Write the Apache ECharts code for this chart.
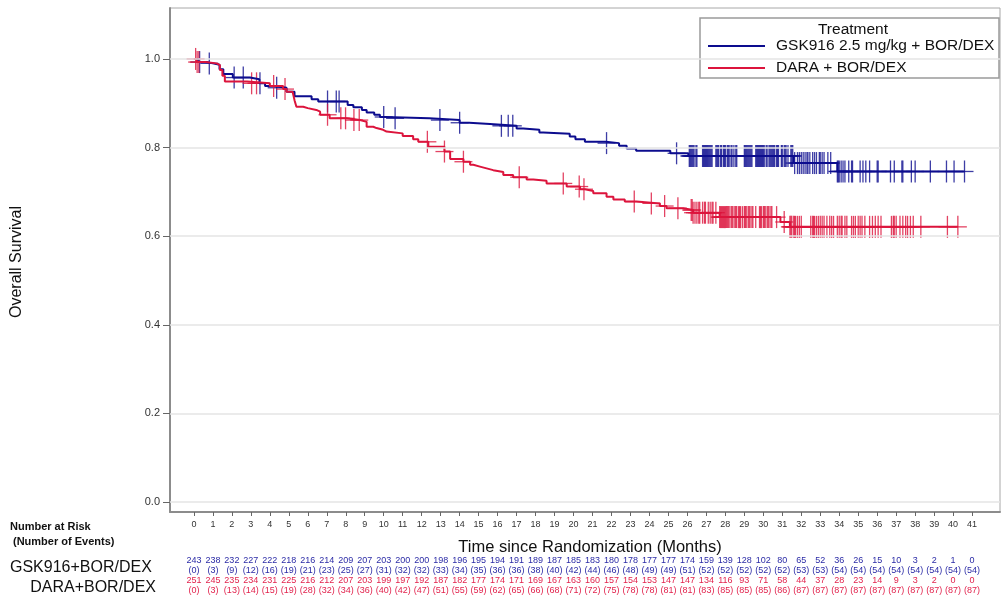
<!DOCTYPE html>
<html>
<head>
<meta charset="utf-8">
<script src="https://cdn.jsdelivr.net/npm/echarts@6/dist/echarts.min.js"></script>
<style>html,body{margin:0;padding:0;background:#fff}#c{width:1001px;height:596px}</style>
</head>
<body>
<div id="c"></div>
<script>
const xTicks = [0,1,2,3,4,5,6,7,8,9,10,11,12,13,14,15,16,17,18,19,20,21,22,23,24,25,26,27,28,29,30,31,32,33,34,35,36,37,38,39,40,41];
const yTicks = [0, 0.2, 0.4, 0.6, 0.8, 1.0];

const gskName = 'GSK916 2.5 mg/kg + BOR/DEX';
const daraName = 'DARA + BOR/DEX';

const gskAtRisk = [243,238,232,227,222,218,216,214,209,207,203,200,200,198,196,195,194,191,189,187,185,183,180,178,177,177,174,159,139,128,102,80,65,52,36,26,15,10,3,2,1,0];
const gskEvents = [0,3,9,12,16,19,21,23,25,27,31,32,32,33,34,35,36,36,38,40,42,44,46,48,49,49,51,52,52,52,52,52,53,53,54,54,54,54,54,54,54,54];
const daraAtRisk = [251,245,235,234,231,225,216,212,207,203,199,197,192,187,182,177,174,171,169,167,163,160,157,154,153,147,147,134,116,93,71,58,44,37,28,23,14,9,3,2,0,0];
const daraEvents = [0,3,13,14,15,19,28,32,34,36,40,42,47,51,55,59,62,65,66,68,71,72,75,78,78,81,81,83,85,85,85,86,87,87,87,87,87,87,87,87,87,87];

const gskSteps = [[0,1.0],[0.2,0.993],[0.6,0.990],[1.0,0.987],[1.35,0.977],[1.55,0.966],[2.05,0.958],[2.95,0.954],[3.45,0.945],[3.75,0.939],[4.2,0.935],[4.88,0.926],[5.3,0.916],[6.2,0.909],[6.55,0.904],[8.1,0.896],[8.4,0.891],[8.85,0.885],[9.1,0.879],[9.5,0.874],[9.8,0.869],[10.1,0.866],[12.4,0.862],[14.0,0.856],[14.5,0.853],[15.6,0.849],[17.0,0.843],[17.35,0.840],[18.2,0.834],[18.4,0.831],[19.8,0.825],[20.1,0.819],[20.6,0.813],[21.7,0.810],[22.4,0.804],[22.8,0.798],[23.3,0.793],[25.1,0.787],[26.05,0.781],[31.6,0.765],[33.9,0.746],[40.6,0.746]];

const daraSteps = [[0,1.0],[0.15,0.993],[0.6,0.990],[1.2,0.986],[1.37,0.975],[1.5,0.962],[1.63,0.949],[2.8,0.945],[4.0,0.939],[4.7,0.932],[4.88,0.926],[5.2,0.922],[5.3,0.907],[5.4,0.892],[5.76,0.889],[6.0,0.885],[6.45,0.881],[6.65,0.874],[7.15,0.866],[8.05,0.862],[8.75,0.858],[9.1,0.847],[9.45,0.844],[9.62,0.840],[9.97,0.836],[10.15,0.832],[11.0,0.826],[11.55,0.819],[11.82,0.813],[12.35,0.802],[13.2,0.791],[13.5,0.774],[14.2,0.768],[14.55,0.761],[14.72,0.757],[15.07,0.753],[15.42,0.749],[15.77,0.745],[16.3,0.738],[16.82,0.733],[17.53,0.728],[17.88,0.725],[18.58,0.719],[19.64,0.712],[20.34,0.706],[20.6,0.702],[21.04,0.697],[21.74,0.689],[22.1,0.683],[22.7,0.678],[23.3,0.674],[24.55,0.668],[24.9,0.663],[25.78,0.659],[26.3,0.653],[27.7,0.643],[30.9,0.632],[31.4,0.621],[40.25,0.621]];

const gskCensor = [0.3,0.81,2.12,2.6,3.48,4.36,7.04,7.5,7.65,10.0,10.6,12.96,14.0,16.2,16.56,16.8,21.74,25.43,
 26.1,26.15,26.2,26.25,26.3,26.35,26.45,26.5,26.8,26.85,26.9,26.95,27.0,
 27.05,27.1,27.15,27.2,27.25,27.3,27.5,27.55,27.6,27.65,27.75,27.8,27.9,27.95,
 28.0,28.1,28.15,28.2,28.3,28.35,28.45,28.55,28.6,
 29.0,29.05,29.1,29.15,29.2,29.25,29.3,29.35,29.4,29.6,29.65,29.7,29.75,29.8,29.85,29.9,29.95,
 30.0,30.05,30.15,30.2,30.3,30.35,30.4,30.45,30.5,30.55,30.6,30.7,30.75,30.8,30.95,31.0,
 31.1,31.15,31.2,31.3,31.45,31.5,31.55,31.65,31.8,31.9,32.0,
 32.1,32.2,32.3,32.35,32.45,32.6,32.7,32.8,32.95,33.0,
 33.1,33.2,33.4,33.55,33.9,33.95,34.0,
 34.1,34.2,34.3,34.5,34.65,34.7,35.1,35.25,35.4,35.6,36.0,36.05,
 36.7,36.9,37.3,37.35,37.8,38.0,38.8,39.65,40.05,40.6];

const daraCensor = [0.09,0.17,0.26,3.04,3.3,4.2,4.8,7.04,7.74,7.99,8.43,8.71,12.3,13.2,14.2,17.14,19.46,20.3,20.55,23.2,24.1,24.8,25.5,
 26.2,26.25,26.3,26.4,26.5,26.6,26.65,26.8,26.9,26.95,27.1,27.2,27.3,27.35,27.5,
 27.7,27.75,27.8,27.85,27.9,27.95,28.0,28.05,28.1,28.15,28.2,28.3,28.35,28.4,28.5,28.55,28.6,28.7,28.75,28.8,28.9,
 29.0,29.05,29.1,29.2,29.25,29.3,29.4,29.45,29.6,29.8,29.85,29.9,30.0,30.05,30.1,30.2,30.25,30.3,30.4,
 30.45,30.7,31.1,31.4,31.45,31.5,31.6,31.65,31.7,31.8,31.9,32.0,
 32.5,32.6,32.65,32.7,32.8,32.9,33.0,33.1,33.2,33.35,33.5,33.6,33.7,
 33.9,34.0,34.1,34.15,34.3,34.4,34.65,34.75,34.85,35.0,35.1,35.2,35.35,
 35.6,35.75,35.9,36.05,36.2,36.75,36.85,36.9,37.0,37.2,37.35,37.5,37.6,37.75,37.9,38.3,39.7,40.25];

const BLUE = '#0c0c8e';
const RED = '#dc143c';
const BLUE_T = '#2b2ba6';
const RED_T = '#e2234d';
const FONT = 'Liberation Sans, Arial, sans-serif';

function survAt(steps, t) {
  let s = steps[0][1];
  for (const p of steps) { if (p[0] <= t) s = p[1]; else break; }
  return s;
}

function censorSeries(name, times, steps, color) {
  return {
    type: 'custom', name: name, xAxisIndex: 0, yAxisIndex: 0, z: 3, silent: true,
    data: times.map(t => [t, survAt(steps, t)]),
    renderItem: function (params, api) {
      const p = api.coord([api.value(0), api.value(1)]);
      const st = { stroke: color, lineWidth: 1.3, opacity: 0.8 };
      return { type: 'group', children: [
        { type: 'line', shape: { x1: p[0], y1: p[1] - 11, x2: p[0], y2: p[1] + 11 }, style: st },
        { type: 'line', shape: { x1: p[0] - 9, y1: p[1], x2: p[0] + 9, y2: p[1] }, style: st }
      ]};
    }
  };
}

// risk table cells
const tableCells = [];
const tableText = [];
const tableColor = [];
xTicks.forEach((m, i) => {
  tableCells.push([m, 3.5]); tableText.push(String(gskAtRisk[i])); tableColor.push(BLUE_T);
  tableCells.push([m, 2.5]); tableText.push('(' + gskEvents[i] + ')'); tableColor.push(BLUE_T);
  tableCells.push([m, 1.5]); tableText.push(String(daraAtRisk[i])); tableColor.push(RED_T);
  tableCells.push([m, 0.5]); tableText.push('(' + daraEvents[i] + ')'); tableColor.push(RED_T);
});

const chart = echarts.init(document.getElementById('c'), null, { renderer: 'canvas' });
chart.setOption({
  animation: false,
  backgroundColor: '#fff',
  textStyle: { fontFamily: FONT },
  grid: [
    { left: 170, right: 1, top: 8, bottom: 84, show: true, borderColor: '#a8a8a8', borderWidth: 1, backgroundColor: 'transparent' },
    { left: 170, right: 1, top: 556, height: 40 }
  ],
  xAxis: [
    { type: 'value', gridIndex: 0, min: -1.26, max: 42.47,
      axisLine: { show: true, onZero: false, lineStyle: { color: '#8c8c8c', width: 2 } },
      axisTick: { show: true, customValues: xTicks, length: 4, lineStyle: { color: '#666' } },
      axisLabel: { customValues: xTicks, fontSize: 9, color: '#333', margin: 8, fontFamily: FONT },
      splitLine: { show: false } },
    { type: 'value', gridIndex: 1, min: -1.26, max: 42.47, show: false }
  ],
  yAxis: [
    { type: 'value', gridIndex: 0, min: -0.0226, max: 1.115,
      axisLine: { show: true, onZero: false, lineStyle: { color: '#8c8c8c', width: 2 } },
      axisTick: { show: true, customValues: yTicks, length: 7, lineStyle: { color: '#666' } },
      axisLabel: { customValues: yTicks, fontSize: 11, color: '#333', margin: 10, fontFamily: FONT, formatter: v => Number(v).toFixed(1) },
      splitLine: { show: false } },
    { type: 'value', gridIndex: 1, min: 0, max: 4, show: false }
  ],
  legend: {
    data: [gskName, daraName], orient: 'vertical', left: 708, top: 38, padding: 0,
    icon: 'rect', itemWidth: 57, itemHeight: 2, itemGap: 6, z: 6,
    textStyle: { fontSize: 15.5, color: '#111', fontFamily: FONT, padding: [0, 0, 0, 6] }
  },
  graphic: [
    { type: 'rect', z: 5, shape: { x: 700, y: 18, width: 299, height: 60 }, style: { fill: '#fff', stroke: '#9a9a9a', lineWidth: 1.5 } },
    { type: 'text', z: 7, x: 853, y: 30, style: { text: 'Treatment', fontSize: 15.5, fontFamily: FONT, fill: '#111', align: 'center', verticalAlign: 'middle' } },
    { type: 'text', x: 590, y: 547, style: { text: 'Time since Randomization (Months)', fontSize: 16.5, fontFamily: FONT, fill: '#111', align: 'center', verticalAlign: 'middle' } },
    { type: 'text', x: 17, y: 262, rotation: Math.PI / 2, style: { text: 'Overall Survival', fontSize: 16, fontFamily: FONT, fill: '#111', align: 'center', verticalAlign: 'middle' } },
    { type: 'text', x: 10, y: 527, style: { text: 'Number at Risk', fontSize: 11, fontWeight: 'bold', fontFamily: FONT, fill: '#111', verticalAlign: 'middle' } },
    { type: 'text', x: 13, y: 542, style: { text: '(Number of Events)', fontSize: 11, fontWeight: 'bold', fontFamily: FONT, fill: '#111', verticalAlign: 'middle' } },
    { type: 'text', x: 10, y: 568, style: { text: 'GSK916+BOR/DEX', fontSize: 16, fontFamily: FONT, fill: '#111', verticalAlign: 'middle' } },
    { type: 'text', x: 156, y: 588, style: { text: 'DARA+BOR/DEX', fontSize: 16, fontFamily: FONT, fill: '#111', align: 'right', verticalAlign: 'middle' } }
  ],
  series: [
    { type: 'line', name: '_grid', data: [], z: 1, silent: true,
      markLine: { silent: true, symbol: 'none', label: { show: false },
        lineStyle: { color: '#e4e4e4', width: 1.5, type: 'solid' },
        data: yTicks.map(v => ({ yAxis: v })) } },
    { type: 'line', name: gskName, step: 'end', showSymbol: false, symbol: 'none', z: 4,
      data: gskSteps, lineStyle: { color: BLUE, width: 2 }, itemStyle: { color: BLUE } },
    { type: 'line', name: daraName, step: 'end', showSymbol: false, symbol: 'none', z: 4,
      data: daraSteps, lineStyle: { color: RED, width: 2 }, itemStyle: { color: RED } },
    censorSeries('gskCensor', gskCensor, gskSteps, BLUE),
    censorSeries('daraCensor', daraCensor, daraSteps, RED),
    { type: 'custom', name: 'table', xAxisIndex: 1, yAxisIndex: 1, silent: true,
      data: tableCells,
      renderItem: function (params, api) {
        const p = api.coord([api.value(0), api.value(1)]);
        return { type: 'text', x: p[0], y: p[1], style: {
          text: tableText[params.dataIndex], fill: tableColor[params.dataIndex],
          fontSize: 9, fontFamily: FONT, align: 'center', verticalAlign: 'middle' } };
      } }
  ]
});
</script>
</body>
</html>
